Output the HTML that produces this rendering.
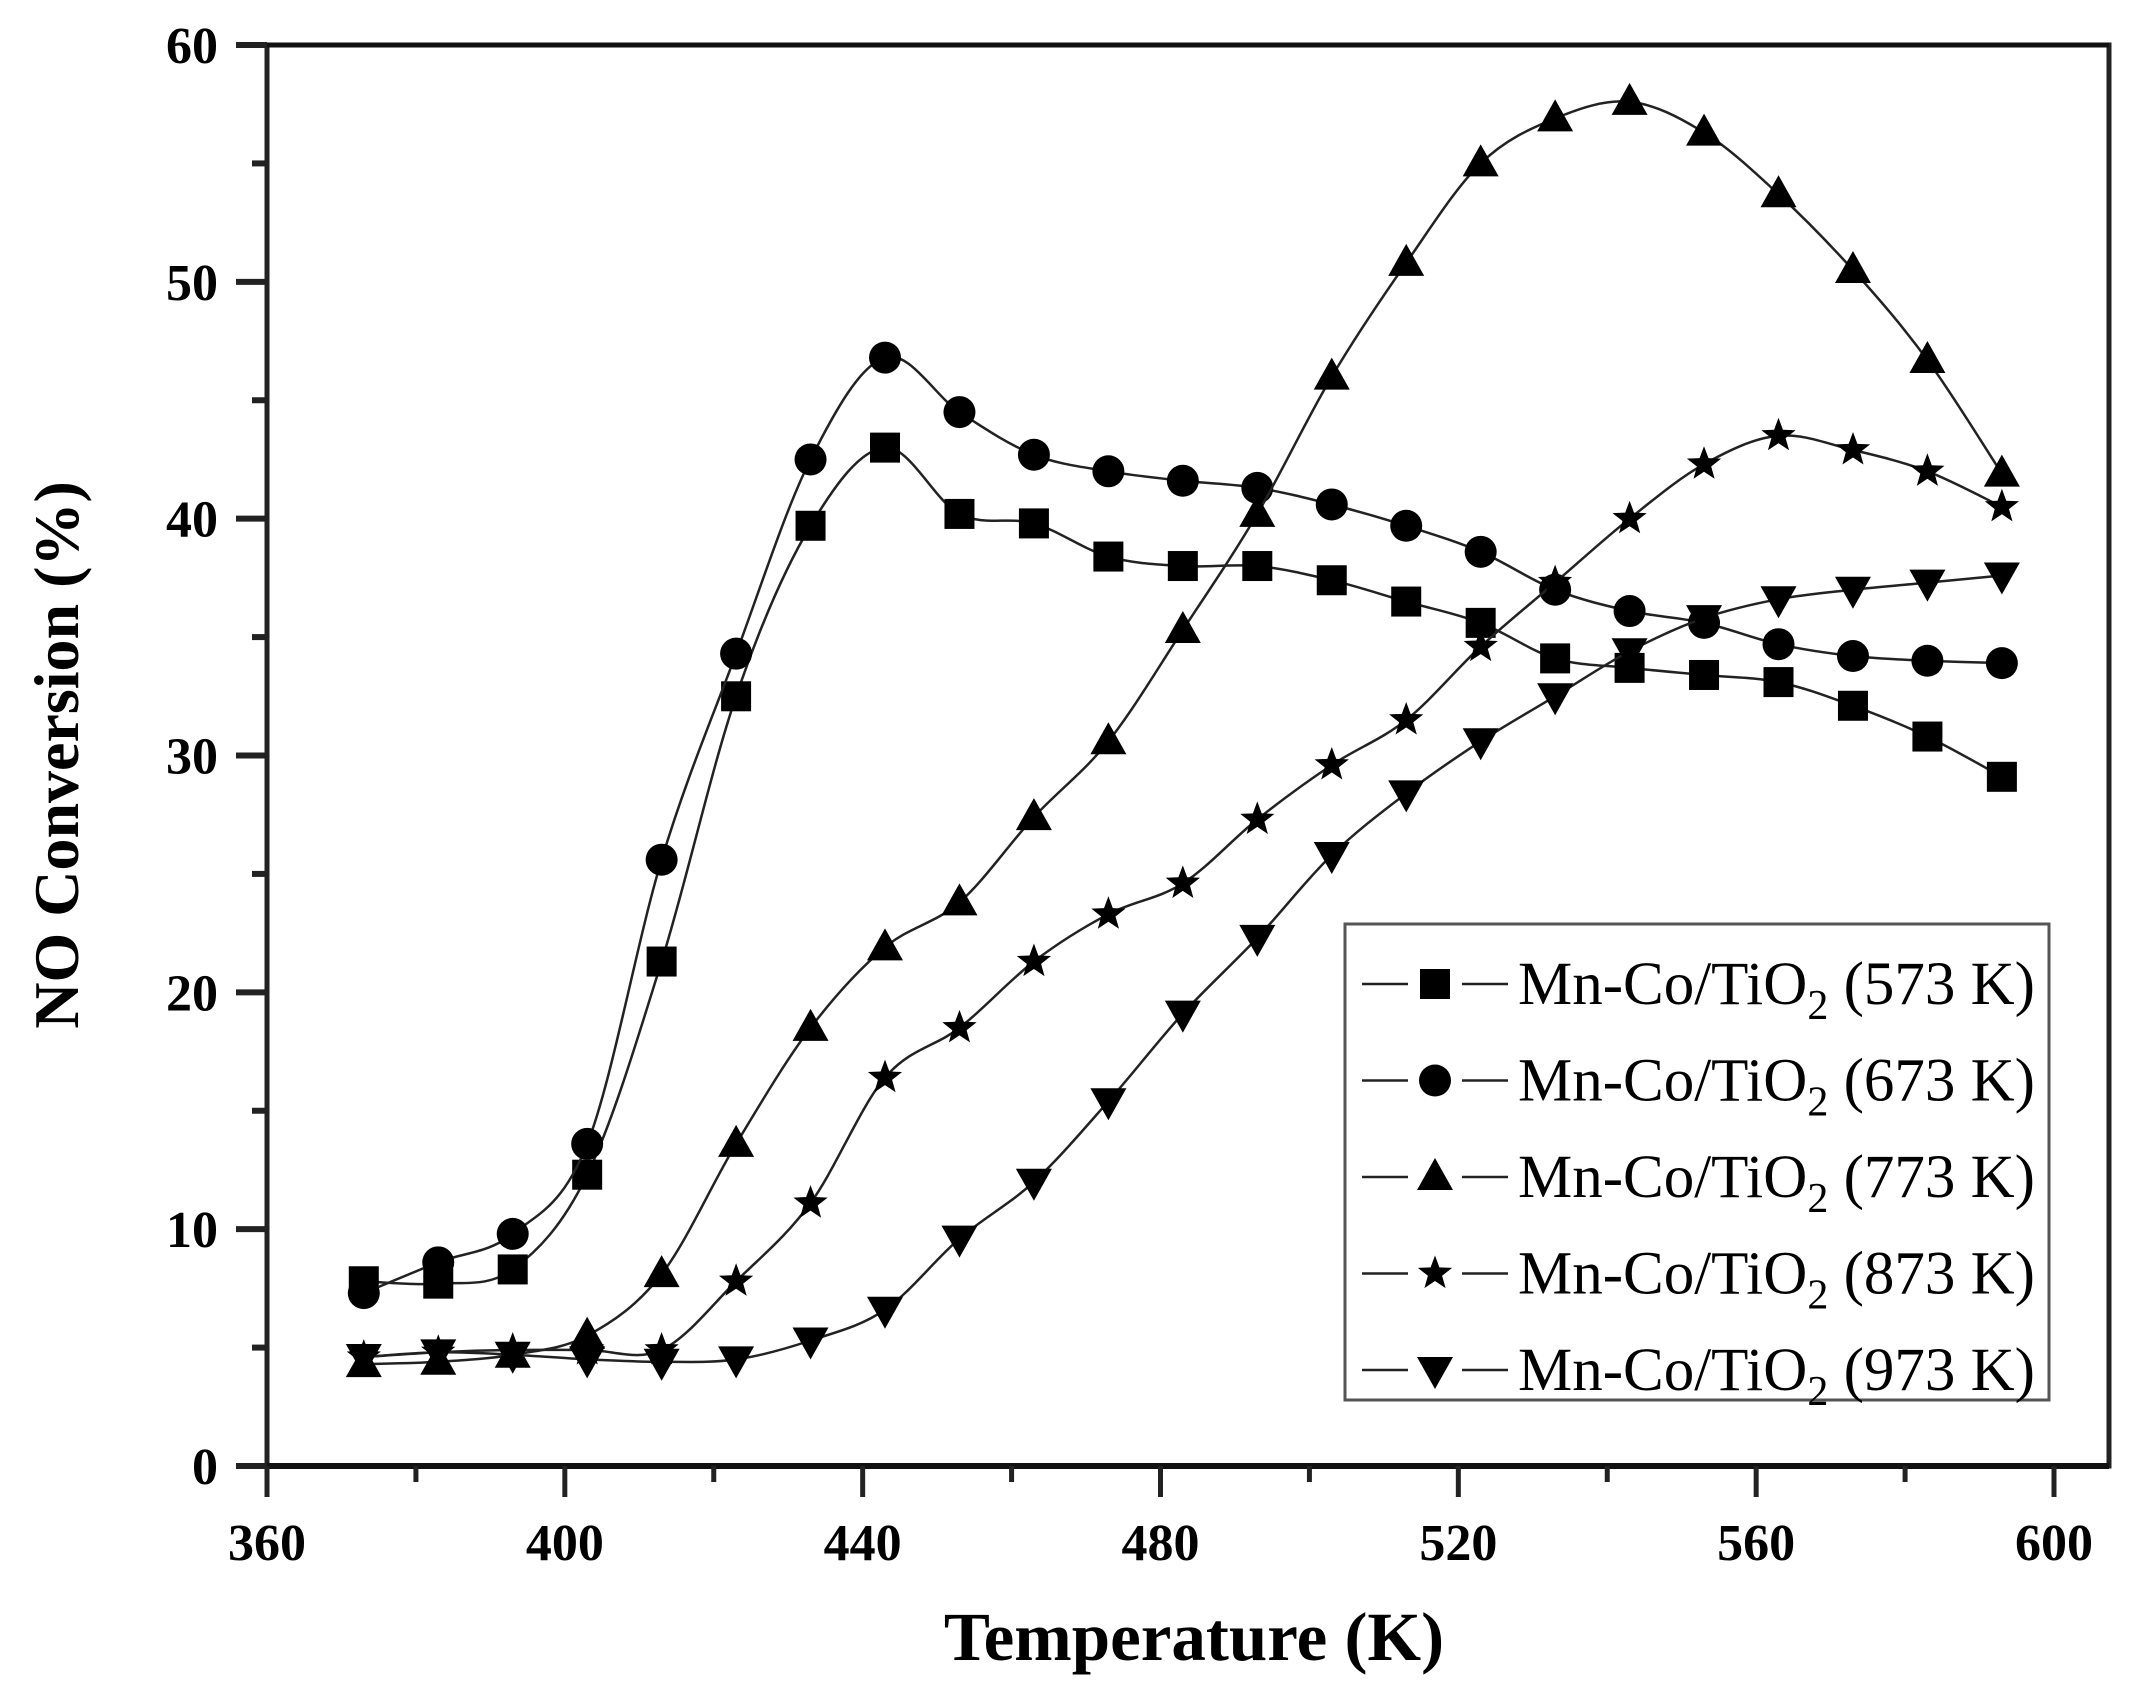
<!DOCTYPE html>
<html><head><meta charset="utf-8"><style>
html,body{margin:0;padding:0;background:#fff;}
svg{display:block;}
text{font-family:"Liberation Serif",serif;}
</style></head><body>
<svg id="s" width="2152" height="1689" xmlns="http://www.w3.org/2000/svg"></svg>
<script>
const s=document.getElementById('s');
const X=t=>267+(t-360)*(2054-267)/240;
const Y=v=>1466-v*(1466-45)/60;
let h='';
h+='<rect x="267" y="45" width="1842" height="1421" fill="none" stroke="#222" stroke-width="5"/>';
h+='<line x1="236" y1="1466" x2="2109" y2="1466" stroke="#111" stroke-width="6"/>';
h+='<line x1="236" y1="45" x2="2109" y2="45" stroke="#111" stroke-width="5"/>';
for(let v=0;v<=60;v+=5){const y=Y(v);const maj=v%10==0;
 h+=`<line x1="${maj?236:252}" y1="${y}" x2="267" y2="${y}" stroke="#222" stroke-width="6"/>`;
 if(maj)h+=`<text x="218" y="${y+18}" font-size="52" font-weight="bold" text-anchor="end">${v}</text>`;}
for(let t=360;t<=600;t+=20){const x=X(t);const maj=t%40==0;
 h+=`<line x1="${x}" y1="1466" x2="${x}" y2="${maj?1497:1482}" stroke="#222" stroke-width="5"/>`;
 if(maj)h+=`<text x="${x}" y="1560" font-size="52" font-weight="bold" text-anchor="middle">${t}</text>`;}
h+='<text x="1194" y="1660" font-size="69" font-weight="bold" text-anchor="middle">Temperature (K)</text>';
h+='<text transform="translate(78,755) rotate(-90)" font-size="64" font-weight="bold" text-anchor="middle">NO Conversion (%)</text>';
const T=[];for(let t=373;t<=593;t+=10)T.push(t);
const D={
sq:[7.8,7.7,8.3,12.3,21.3,32.5,39.7,43.0,40.2,39.8,38.4,38.0,38.0,37.4,36.5,35.6,34.1,33.7,33.4,33.1,32.1,30.8,29.1],
ci:[7.3,8.6,9.8,13.6,25.6,34.3,42.5,46.8,44.5,42.7,42.0,41.6,41.3,40.6,39.7,38.6,37.0,36.1,35.6,34.7,34.2,34.0,33.9],
tr:[4.3,4.4,4.7,5.5,8.1,13.6,18.5,21.9,23.8,27.4,30.6,35.3,40.2,46.0,50.8,55.0,56.9,57.6,56.3,53.7,50.5,46.7,41.9],
st:[4.6,4.8,4.9,4.9,4.9,7.8,11.1,16.4,18.5,21.3,23.3,24.6,27.3,29.6,31.5,34.6,37.3,40.0,42.3,43.5,42.9,42.0,40.5],
dt:[4.6,4.8,4.7,4.5,4.4,4.5,5.3,6.6,9.6,12.0,15.4,19.1,22.3,25.8,28.4,30.6,32.5,34.4,35.8,36.6,37.0,37.3,37.6]};
function mk(k,x,y){
 if(k=='sq')return `<rect x="${x-15}" y="${y-15}" width="30" height="30" fill="#000"/>`;
 if(k=='ci')return `<circle cx="${x}" cy="${y}" r="16" fill="#000"/>`;
 if(k=='tr')return `<polygon points="${x},${y-19} ${x-18},${y+13} ${x+18},${y+13}" fill="#000"/>`;
 if(k=='dt')return `<polygon points="${x},${y+19} ${x-18},${y-13} ${x+18},${y-13}" fill="#000"/>`;
 let p=[];for(let i=0;i<10;i++){const r=i%2?7.5:18;const a=-Math.PI/2+i*Math.PI/5;p.push((x+r*Math.cos(a)).toFixed(1)+','+(y+r*Math.sin(a)).toFixed(1));}
 return `<polygon points="${p.join(' ')}" fill="#000"/>`;
}
function spline(P){
 let d=`M${P[0][0]},${P[0][1]}`;
 for(let i=0;i<P.length-1;i++){
  const p0=P[Math.max(i-1,0)],p1=P[i],p2=P[i+1],p3=P[Math.min(i+2,P.length-1)];
  const c1=[p1[0]+(p2[0]-p0[0])/6,p1[1]+(p2[1]-p0[1])/6];
  const c2=[p2[0]-(p3[0]-p1[0])/6,p2[1]-(p3[1]-p1[1])/6];
  d+=` C${c1[0].toFixed(1)},${c1[1].toFixed(1)} ${c2[0].toFixed(1)},${c2[1].toFixed(1)} ${p2[0].toFixed(1)},${p2[1].toFixed(1)}`;
 }
 return d;
}
for(const k in D){
 const P=D[k].map((v,i)=>[X(T[i]),Y(v)]);
 h+=`<path d="${spline(P)}" fill="none" stroke="#222" stroke-width="2.5"/>`;
 D[k].forEach((v,i)=>h+=mk(k,X(T[i]),Y(v)));
}
h+='<rect x="1345" y="924" width="704" height="476" fill="#fff" stroke="#555" stroke-width="3"/>';
const L=[['sq','573'],['ci','673'],['tr','773'],['st','873'],['dt','973']];
L.forEach((l,i)=>{const y=984+i*96.5;
 h+=`<line x1="1362" y1="${y}" x2="1408" y2="${y}" stroke="#222" stroke-width="2.5"/>`;
 h+=`<line x1="1462" y1="${y}" x2="1508" y2="${y}" stroke="#222" stroke-width="2.5"/>`;
 h+=mk(l[0],1435,y);
 h+=`<text x="1518" y="${y+20}" font-size="61">Mn-Co/TiO<tspan font-size="42" dy="15">2</tspan><tspan dy="-15"> (${l[1]} K)</tspan></text>`;
});
s.innerHTML=h;
</script>
</body></html>
